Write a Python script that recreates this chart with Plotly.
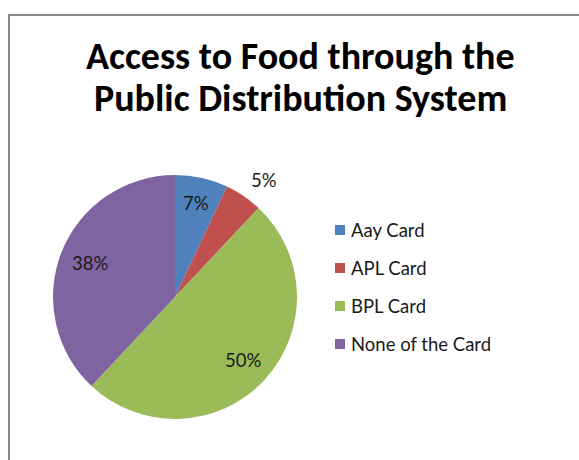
import math
import plotly.graph_objects as go

# Share of households by ration card type
categories = ["Aay Card", "APL Card", "BPL Card", "None of the Card"]
shares = [7, 5, 50, 38]
colors = ["#4F81BD", "#C0504D", "#9BBB59", "#8064A2"]
title_lines = ["Access to Food through the", "Public Distribution System"]

W, H = 579, 460
TITLE_FONT = "Carlito, Lato, sans-serif"
TEXT_FONT = "Lato, Carlito, sans-serif"

# pie geometry in pixels
cx, cy, R = 175, 297, 122
# radial placement of each percentage label (fraction of radius)
label_r = [0.79, 1.2, 0.76, 0.75]
# small angular nudge (degrees) for labels that sit outside the pie
label_da = [0, 3, 0, 0]


def px(x):
    return x / W


def py(y):
    return 1 - y / H


fig = go.Figure()
fig.add_trace(go.Pie(
    labels=categories,
    values=shares,
    sort=False,
    direction="clockwise",
    rotation=0,
    marker=dict(colors=colors, line=dict(width=0)),
    textinfo="none",
    hoverinfo="label+percent",
    showlegend=False,
    domain=dict(x=[px(cx - R), px(cx + R)], y=[py(cy + R), py(cy - R)]),
))

annotations = []
shapes = []

# percentage labels at each slice's mid-angle
total = sum(shares)
cum = 0
for v, f, da in zip(shares, label_r, label_da):
    mid = (cum + v / 2) / total * 2 * math.pi + math.radians(da)
    cum += v
    x = cx + f * R * math.sin(mid)
    y = cy - f * R * math.cos(mid)
    annotations.append(dict(
        x=px(x), y=py(y), xref="paper", yref="paper",
        text=f"{round(v / total * 100)}%", showarrow=False,
        xanchor="center", yanchor="middle",
        font=dict(family=TEXT_FONT, size=18.5, color="#1a1a1a"),
    ))

# legend: colour squares with labels
for i, (name, c) in enumerate(zip(categories, colors)):
    yc = 230 + 38 * i
    shapes.append(dict(
        type="rect", xref="paper", yref="paper",
        x0=px(335), x1=px(345), y0=py(yc + 5), y1=py(yc - 5),
        fillcolor=c, line=dict(width=0),
    ))
    annotations.append(dict(
        x=px(349), y=py(yc), xref="paper", yref="paper",
        text=name, showarrow=False, xanchor="left", yanchor="middle",
        font=dict(family=TEXT_FONT, size=18.5, color="#1a1a1a"),
    ))

# title, two lines
for i, line in enumerate(title_lines):
    annotations.append(dict(
        x=px(300), y=py(56 + 42 * i), xref="paper", yref="paper",
        text=f"<b>{line}</b>", showarrow=False,
        xanchor="center", yanchor="middle",
        font=dict(family=TITLE_FONT, size=38, color="#000000"),
    ))

# chart-area border (runs off the right and bottom edges)
shapes.append(dict(
    type="rect", xref="paper", yref="paper",
    x0=px(9), x1=px(W + 20), y0=py(H + 20), y1=py(15),
    line=dict(color="#868686", width=2), fillcolor="rgba(0,0,0,0)",
))

fig.update_layout(
    width=W, height=H,
    margin=dict(l=0, r=0, t=0, b=0),
    paper_bgcolor="white",
    plot_bgcolor="white",
    annotations=annotations,
    shapes=shapes,
)

fig.write_html("out.html")
